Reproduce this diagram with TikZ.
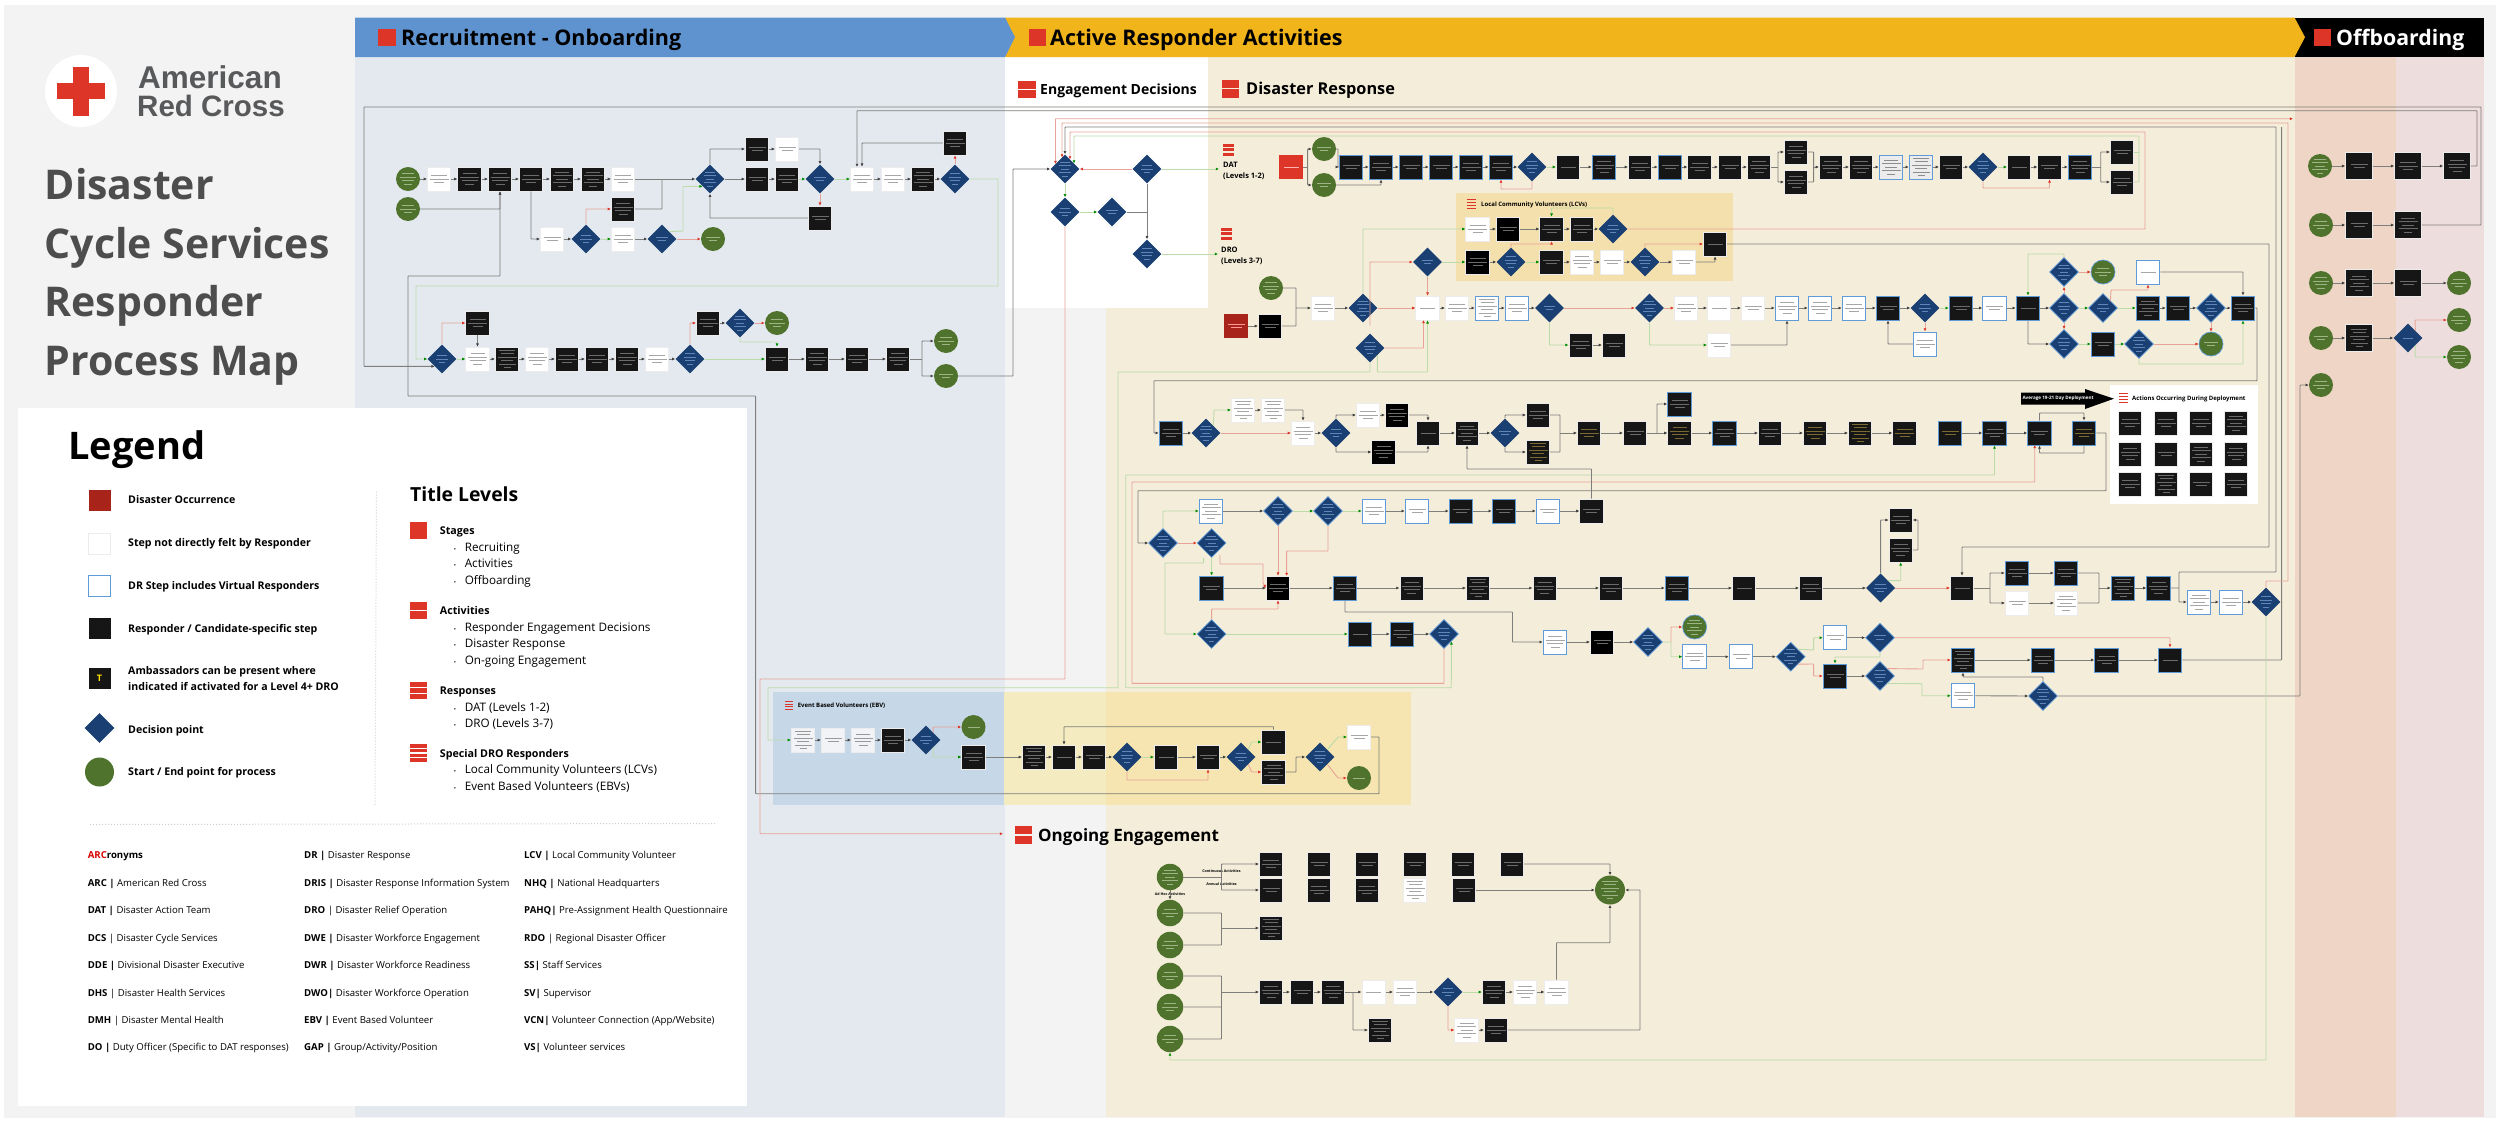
\documentclass[tikz,border=0pt]{standalone}
\usepackage{fontspec}
\setmainfont{Open Sans}
\newfontfamily\logofont{Liberation Sans}
\usetikzlibrary{arrows.meta,shapes.geometric}
\definecolor{bgG}{HTML}{F3F3F3}\definecolor{colB}{HTML}{E4E9F0}\definecolor{cream}{HTML}{F4EDDA}
\definecolor{salmon}{HTML}{EFD5C5}\definecolor{pinkc}{HTML}{EEDDDD}\definecolor{hdrB}{HTML}{5F93D0}
\definecolor{hdrY}{HTML}{F2B41B}\definecolor{lcvc}{HTML}{F4E0AC}\definecolor{ebvB}{HTML}{C6D7E8}
\definecolor{ebvY}{HTML}{F4EBC0}\definecolor{ebvZ}{HTML}{F6E5B0}\definecolor{redc}{HTML}{DE3529}
\definecolor{dredc}{HTML}{A8231A}\definecolor{navy}{HTML}{1A3F72}\definecolor{leaf}{HTML}{4F732D}
\definecolor{blk}{HTML}{161616}\definecolor{vblue}{HTML}{5F9BD8}\definecolor{lineG}{HTML}{7E7E7A}
\definecolor{lineN}{HTML}{BBDBA8}\definecolor{lineR}{HTML}{E8A398}\definecolor{inkT}{HTML}{4D4D4D}
\definecolor{logoT}{HTML}{58595B}
\pgfdeclareradialshading{logoball}{\pgfpoint{0bp}{0bp}}{color(0bp)=(white); color(36bp)=(white); color(50bp)=(black!22)}
\newcommand\fsz[1]{\fontsize{#1}{#1}\selectfont}
\def\gscale{1}
\newcommand\greekline[1]{\hbox to 0pt{\hss\rule{\gscale\dimexpr #1pt\relax}{1pt}\hss}\kern2.5pt}
\newcommand\grk[1]{\setbox0=\vbox{\offinterlineskip\ifcase#1\or\greekline{15}\or\greekline{17}\greekline{11}\or\greekline{16}\greekline{19}\greekline{10}\or\greekline{14}\greekline{19}\greekline{16}\greekline{9}\or\greekline{14}\greekline{19}\greekline{12}\greekline{19}\greekline{8}\or\greekline{16}\greekline{13}\greekline{19}\greekline{12}\greekline{17}\greekline{7}\fi\unkern}%
\setbox2=\hbox to 0pt{\hss\lower.5\ht0\box0\hss}\ht2=0pt \dp2=0pt \box2 }
\newcommand\mk[6][1]{\node[#2] (#3) at (#4,#5) {\def\gscale{#1}\grk{#6}};}
\newcommand\md[5]{\mk[.68]{#1}{#2}{#3}{#4}{#5}}
\newcommand\me[5]{\mk[.8]{#1}{#2}{#3}{#4}{#5}}
\newcount\tn
\newcommand\txt[4][]{\global\advance\tn by 1 \node[tx,#1] (tx\the\tn) at (#2,#3) {#4};}
\newcommand\lgn[2]{\txt[font=\bfseries\fsz{10.6}]{128}{#1}{#2}}
\newcommand\tlh[2]{\txt[font=\bfseries\fsz{10.7}]{439.7}{#1}{#2}}
\newcommand\tlb[2]{\txt[font=\fsz{11.7}]{453.6}{#1}{\makebox[11pt][l]{\fsz{6}•}#2}}
\newcommand\acr[4]{\txt[font=\fsz{9.6}]{#1}{#2}{\textbf{#3} #4}}
\newcommand\barsicon[5]{\pgfmathsetmacro\bh{(#4-(#5-1)*1.4)/#5}\foreach \i in {1,...,#5}{\fill[redc] (#1,{#3+(\i-1)*(\bh+1.4)}) rectangle (#2,{#3+(\i-1)*(\bh+1.4)+\bh});}}
\definecolor{F1}{HTML}{F1F3F6}\definecolor{Am}{HTML}{7A6A30}\definecolor{Db}{HTML}{5F86B5}\definecolor{Gl}{HTML}{9DB585}
\tikzset{
 tx/.style={anchor=base west,inner sep=0pt,text=black},
 box/.style={rectangle,minimum width=23.5pt,minimum height=24pt,inner sep=0pt,line width=.7pt},
 kb/.style={box,fill=blk,draw=white!85!gray,text=white!42!black},
 pb/.style={box,fill=black,draw=white!85!gray,text=white!42!black},
 wb/.style={box,fill=white,draw=white!85!gray,text=white!65!black},
 tb/.style={box,fill=F1,draw=white!85!gray,text=white!60!black},
 vb/.style={box,fill=white,draw=vblue,line width=1pt,text=white!65!black},
 sb/.style={box,fill=white!85!gray,draw=vblue,line width=1pt,text=white!55!black},
 ub/.style={box,fill=blk,draw=vblue,line width=1pt,text=white!42!black},
 am/.style={box,fill=blk,draw=white!85!gray,text=Am},
 ua/.style={box,fill=blk,draw=vblue,line width=1pt,text=Am},
 kc/.style={kb,minimum width=27pt,minimum height=27pt},
 rr/.style={box,fill=redc,text=white!70!red},
 dr/.style={box,fill=dredc,text=white!60!red},
 dd/.style={diamond,aspect=1,minimum width=29pt,minimum height=29pt,inner sep=0pt,fill=navy,text=Db},
 dv/.style={dd,draw=vblue,line width=.7pt},
 ge/.style={ellipse,minimum width=24pt,minimum height=24pt,inner sep=0pt,fill=leaf,text=Gl},
 gv/.style={ge,draw=vblue,line width=.7pt},
 gf/.style={ge,minimum width=26.5pt,minimum height=26.5pt},
 ktip/.tip={Latex[length=3.2pt,width=3pt,color=black!75]},
 gtip/.tip={Latex[length=3.2pt,width=3pt,color=green!55!black]},
 rtip/.tip={Latex[length=3.2pt,width=3pt,color=redc]},
 ln/.style={draw=lineG,line width=.9pt,rounded corners=.6pt,-ktip},
 gn/.style={draw=lineN,line width=.9pt,rounded corners=.6pt,-gtip},
 rd/.style={draw=lineR,line width=.9pt,rounded corners=.6pt,-rtip},
}
\begin{document}
\begin{tikzpicture}[x=1pt,y=-1pt]
\useasboundingbox (0,0) rectangle (2500,1122);
\fill[white] (0,0) rectangle (2500,1122);
\fill[bgG] (4,5) rectangle (2496,1118);
% columns
\fill[colB] (355,57) rectangle (1005,1117);
\fill[white] (1005,57) rectangle (1208,308);
\fill[cream] (1208,57) rectangle (2294.5,1117);
\fill[cream] (1106,308) rectangle (1208,1117);
\fill[salmon] (2294.5,57) rectangle (2396,1117);
\fill[pinkc] (2396,57) rectangle (2484,1117);
% headers
\fill[black] (2294.5,17.5) -- (2484,17.5) -- (2484,57) -- (2294.5,57) -- cycle;
\fill[hdrY] (1005,17.5) -- (2294.5,17.5) -- (2305,37.2) -- (2294.5,57) -- (1005,57) -- cycle;
\fill[hdrB] (355,17.5) -- (1005,17.5) -- (1015,37.2) -- (1005,57) -- (355,57) -- cycle;
\fill[redc] (378.4,28.7) rectangle (396,46);
\fill[redc] (1029,28.7) rectangle (1046,46);
\fill[redc] (2314,28.7) rectangle (2331,46);
\txt[font=\bfseries\fsz{21.5}]{401}{45.5}{Recruitment - Onboarding}
\txt[font=\bfseries\fsz{21.5}]{1050}{45.5}{Active Responder Activities}
\txt[font=\bfseries\fsz{21.3},text=white]{2336}{45.5}{Offboarding}
\barsicon{1018}{1036}{80.7}{17.6}{2}
\txt[font=\bfseries\fsz{14}]{1040}{94}{Engagement Decisions}
\barsicon{1222}{1239}{79.5}{18}{2}
\txt[font=\bfseries\fsz{16.3}]{1246}{94}{Disaster Response}
\barsicon{1014.5}{1032}{826}{18}{2}
\txt[font=\bfseries\fsz{17}]{1038}{841.5}{Ongoing Engagement}
\barsicon{1223}{1234}{144}{11.5}{3}
\txt[font=\bfseries\fsz{7.5}]{1223}{167}{DAT}
\txt[font=\bfseries\fsz{7.5}]{1223}{178}{(Levels 1-2)}
\barsicon{1221}{1232}{228}{11.5}{3}
\txt[font=\bfseries\fsz{7.5}]{1221}{252}{DRO}
\txt[font=\bfseries\fsz{7.5}]{1221}{263}{(Levels 3-7)}
% logo / title
\shade[shading=logoball] (81,91) circle (36);
\fill[redc] (72.7,67) rectangle (89.3,116);
\fill[redc] (56.7,83) rectangle (105,99);
\txt[font=\logofont\bfseries\fsz{31.5},text=logoT]{138}{88}{American}
\txt[font=\logofont\bfseries\fsz{29.5},text=logoT]{137}{116}{Red Cross}
\txt[font=\bfseries\fsz{41},text=inkT]{44.5}{199}{Disaster}
\txt[font=\bfseries\fsz{41},text=inkT]{44.5}{258}{Cycle Services}
\txt[font=\bfseries\fsz{41},text=inkT]{44.5}{316}{Responder}
\txt[font=\bfseries\fsz{41},text=inkT]{44.5}{375}{Process Map}
% legend
\fill[white] (18,408) rectangle (747,1106);
\txt[font=\bfseries\fsz{38}]{68}{459}{Legend}
\node[box,fill=dredc,minimum width=22pt,minimum height=21pt] (lg1) at (99.5,500) {};
\node[box,fill=white,draw=white!85!gray,minimum width=22pt,minimum height=21pt] (lg2) at (99.5,543.7) {};
\node[box,fill=white,draw=vblue,line width=1pt,minimum width=22pt,minimum height=21pt] (lg3) at (99.5,586) {};
\node[box,fill=blk,minimum width=22pt,minimum height=21pt] (lg4) at (99.5,628.7) {};
\node[box,fill=blk,minimum width=22pt,minimum height=21pt,text=yellow!85!orange,font=\bfseries\fsz{9}] (lg5) at (99.5,678.7) {T};
\node[dd,minimum width=30pt,minimum height=30pt] (lg6) at (99.5,728) {};
\node[ge,minimum width=29pt,minimum height=29pt] (lg7) at (99.5,772) {};
\lgn{503.3}{Disaster Occurrence}
\lgn{546.3}{Step not directly felt by Responder}
\lgn{589.3}{DR Step includes Virtual Responders}
\lgn{632}{Responder / Candidate-specific step}
\lgn{674.6}{Ambassadors can be present where}
\lgn{690}{indicated if activated for a Level 4+ DRO}
\lgn{733}{Decision point}
\lgn{775.6}{Start / End point for process}
\draw[bgG!85!black,dotted,line width=1pt] (376.5,491.7) -- (375,806);
\txt[font=\bfseries\fsz{19.4}]{410}{501}{Title Levels}
\barsicon{409.6}{427.3}{521.7}{17.4}{1}
\tlh{534}{Stages}
\tlb{551}{Recruiting}\tlb{567.7}{Activities}\tlb{584}{Offboarding}
\barsicon{409.6}{427.3}{601.7}{17.6}{2}
\tlh{614}{Activities}
\tlb{631}{Responder Engagement Decisions}\tlb{647.7}{Disaster Response}\tlb{664.3}{On-going Engagement}
\barsicon{409.6}{427.3}{681.7}{17.4}{3}
\tlh{694.3}{Responses}
\tlb{711}{DAT (Levels 1-2)}\tlb{727.7}{DRO (Levels 3-7)}
\barsicon{409.6}{427.3}{744.3}{17.4}{4}
\tlh{757}{Special DRO Responders}
\tlb{773.3}{Local Community Volunteers (LCVs)}\tlb{790}{Event Based Volunteers (EBVs)}
\draw[bgG!85!black,dotted,line width=1pt] (90,824.5) -- (717,823.5);
\txt[font=\bfseries\fsz{9.6}]{87.6}{858.5}{\textcolor{red!85!black}{ARC}ronyms}
\acr{87.6}{886}{ARC |}{American Red Cross}
\acr{87.6}{913}{DAT |}{Disaster Action Team}
\acr{87.6}{941}{DCS}{| Disaster Cycle Services}
\acr{87.6}{968}{DDE |}{Divisional Disaster Executive}
\acr{87.6}{996}{DHS}{| Disaster Health Services}
\acr{87.6}{1023}{DMH}{| Disaster Mental Health}
\acr{87.6}{1050.5}{DO |}{Duty Officer (Specific to DAT responses)}
\acr{304}{858.5}{DR |}{Disaster Response}
\acr{304}{886}{DRIS |}{Disaster Response Information System}
\acr{304}{913}{DRO}{| Disaster Relief Operation}
\acr{304}{941}{DWE |}{Disaster Workforce Engagement}
\acr{304}{968}{DWR |}{Disaster Workforce Readiness}
\acr{304}{996}{DWO|}{Disaster Workforce Operation}
\acr{304}{1023}{EBV |}{Event Based Volunteer}
\acr{304}{1050.5}{GAP |}{Group/Activity/Position}
\acr{524}{858.5}{LCV |}{Local Community Volunteer}
\acr{524}{886}{NHQ |}{National Headquarters}
\acr{524}{913}{PAHQ|}{Pre-Assignment Health Questionnaire}
\acr{524}{941}{RDO}{| Regional Disaster Officer}
\acr{524}{968}{SS|}{Staff Services}
\acr{524}{996}{SV|}{Supervisor}
\acr{524}{1023}{VCN|}{Volunteer Connection (App/Website)}
\acr{524}{1050.5}{VS|}{Volunteer services}
% sub-areas
\fill[lcvc] (1455.6,193) rectangle (1733,281);
\barsicon{1467}{1476}{199}{10}{4}
\txt[font=\bfseries\fsz{6}]{1481}{206}{Local Community Volunteers (LCVs)}
\fill[ebvB] (773,692) rectangle (1004,805);
\fill[ebvY] (1004,692) rectangle (1106,805);
\fill[ebvZ] (1106,692) rectangle (1410.5,805);
\barsicon{785}{793}{701}{9}{4}
\txt[font=\bfseries\fsz{6}]{797.6}{707}{Event Based Volunteers (EBV)}
\fill[white] (2110,385) rectangle (2258,504);
\barsicon{2118.5}{2127.5}{393}{10}{4}
\txt[font=\bfseries\fsz{6}]{2132}{400.5}{Actions Occurring During Deployment}
\fill[black] (2021,392.7) -- (2085,392.7) -- (2085,389) -- (2114,398.7) -- (2085,409) -- (2085,404.7) -- (2021,404.7) -- cycle;
\txt[font=\bfseries\fsz{4.6},text=white,anchor=center]{2058}{398.7}{Average 19-21 Day Deployment}
% ---------- recruitment nodes
\me{ge}{s1}{408}{179}{4}\mk{wb}{r2}{439}{179}{3}\mk{kb}{r3}{469.5}{179}{4}\mk{kb}{r4}{500}{179}{4}\mk{kb}{r5}{531}{179}{3}\mk{kb}{r6}{562}{179}{5}\mk{kb}{r7}{593}{179}{5}\mk{wb}{r8}{623}{179}{3}
\md{dd}{r9}{710}{179}{5}\mk{kb}{r10}{757}{179}{2}\mk{kb}{r11}{787}{179}{3}\md{dd}{r12}{820}{179}{2}\mk{wb}{r13}{862}{179}{3}\mk{wb}{r14}{893}{179}{3}\mk{kb}{r15}{923}{179}{5}\md{dd}{r16}{955}{179}{4}
\mk{kb}{r17}{757}{149}{2}\mk{wb}{r18}{787}{149}{2}\mk{kb}{r19}{955}{143}{3}\me{ge}{s2}{408}{209}{3}\mk{kb}{r20}{623}{209}{4}
\mk{wb}{r21}{552}{239}{2}\md{dd}{r22}{586}{239}{3}\mk{wb}{r23}{623}{239}{3}\md{dd}{r24}{662}{239}{2}\me{ge}{e1}{713}{239}{2}\mk{kb}{r25}{820}{218}{2}
\md{dd}{q1}{442}{359}{3}\mk{wb}{q2}{477.5}{359}{4}\mk{kb}{q3}{507}{359}{6}\mk{wb}{q4}{537}{359}{4}\mk{kb}{q5}{567}{359}{3}\mk{kb}{q6}{597}{359}{3}\mk{kb}{q7}{627}{359}{4}\mk{wb}{q8}{657}{359}{3}\md{dd}{q9}{690}{359}{4}
\mk{kb}{q10}{777}{359}{2}\mk{kb}{q11}{817}{359}{4}\mk{kb}{q12}{857}{359}{3}\mk{kb}{q13}{898}{359}{4}\mk{kb}{q14}{477.5}{323}{3}\mk{kb}{q15}{708}{323}{3}\md{dd}{q16}{740}{323}{5}\me{ge}{e2}{777}{323}{3}\me{ge}{e3}{946}{341}{3}\me{ge}{e4}{946}{376}{2}
% engagement
\md{dd}{n1}{1065}{169}{5}\md{dd}{n2}{1147}{169}{3}\md{dd}{n3}{1065}{212}{3}\md{dd}{n4}{1112}{212}{2}\md{dd}{n5}{1147}{254}{4}
\coordinate (cDat) at (1219,169);\coordinate (cDro) at (1218,254);\coordinate (cOng) at (1003,833.7);\coordinate (cOff) at (2293,118.7);
% DAT
\mk{rr}{d0}{1291}{167}{1}\me{ge}{d1}{1324}{149}{2}\me{ge}{d2}{1324}{185}{2}
\mk{ub}{a1}{1351}{167}{2}\mk{ub}{a2}{1381}{167}{3}\mk{ub}{a3}{1411}{167}{2}\mk{ub}{a4}{1441}{167}{2}\mk{ub}{a5}{1471}{167}{3}\mk{ub}{a6}{1501}{167}{3}\md{dd}{a7}{1532}{167}{4}\mk{kb}{a8}{1568}{167}{1}\mk{ub}{a9}{1604}{167}{4}\mk{kb}{a10}{1640}{167}{3}\mk{ub}{a11}{1670}{167}{2}\mk{kb}{a12}{1699.5}{167}{3}\mk{kb}{a13}{1730}{167}{2}\mk{kb}{a14}{1759}{167}{4}
\mk{kb}{a15}{1796}{152}{4}\mk{kb}{a16}{1796}{182}{4}\mk{kb}{a17}{1831}{167}{4}\mk{kb}{a18}{1861}{167}{4}\mk{sb}{a19}{1891}{167}{5}\mk{sb}{a20}{1921}{167}{6}\mk{kb}{a21}{1951}{167}{2}\md{dd}{a22}{1983}{167}{4}\mk{kb}{a23}{2019}{167}{1}\mk{kb}{a24}{2049.5}{167}{2}\mk{ub}{a25}{2080}{167}{4}\mk{kb}{a26}{2122}{152}{2}\mk{kb}{a27}{2122}{182}{3}
% LCV
\mk{wb}{l1}{1477.5}{229}{3}\mk{pb}{l2}{1508}{229}{2}\mk{kb}{l3}{1551.5}{229}{3}\mk{kb}{l4}{1582}{229}{3}\md{dd}{l5}{1613}{229}{3}\mk{pb}{l6}{1477.5}{262}{3}\md{dd}{l7}{1511}{262}{4}\mk{kb}{l8}{1551.5}{262}{2}\mk{wb}{l9}{1582}{262}{4}\mk{wb}{l10}{1612}{262}{2}\md{dd}{l11}{1645}{262}{4}\mk{wb}{l12}{1684}{262}{2}\mk{kb}{l13}{1715}{244}{1}
% DRO row
\me{ge}{b1}{1271}{288}{4}\mk{dr}{b2}{1236}{326}{2}\mk{pb}{b3}{1270}{326}{2}\mk{wb}{b4}{1323}{308}{3}\md{dd}{b5}{1363}{308}{5}\md{dd}{b6}{1427.5}{262}{2}\mk{wb}{b7}{1427.5}{308}{1}\mk{wb}{b8}{1457}{308}{3}\mk{vb}{b9}{1487}{308}{6}\mk{vb}{b10}{1517}{308}{3}\md{dd}{b11}{1549.5}{308}{2}\md{dd}{b12}{1649.5}{308}{5}\mk{wb}{b13}{1686}{308}{3}\mk{wb}{b14}{1719}{308}{1}\mk{wb}{b15}{1753}{308}{2}\mk{vb}{b16}{1787}{308}{4}\mk{vb}{b17}{1820}{308}{4}\mk{vb}{b18}{1854}{308}{3}\mk{ub}{b19}{1888}{308}{2}\md{dd}{b20}{1925}{308}{3}\mk{ub}{b21}{1961}{308}{2}\mk{vb}{b22}{1994.5}{308}{2}\mk{ub}{b23}{2028}{308}{1}\md{dv}{b24}{2064}{308}{4}\md{dv}{b25}{2103}{308}{3}\mk{ub}{b26}{2148}{308}{5}\mk{ub}{b27}{2178}{308}{2}\md{dv}{b28}{2211}{308}{5}\mk{ub}{b29}{2243}{308}{3}
\md{dv}{b30}{2064}{272}{5}\me{gv}{b31}{2103}{272}{3}\mk{vb}{b32}{2148}{272}{1}\md{dd}{b33}{1370}{348}{4}\mk{kb}{b34}{1580.6}{345}{3}\mk{kb}{b35}{1614}{345}{2}\mk{wb}{b36}{1719}{345}{2}\mk{vb}{b37}{1925}{344}{3}\md{dv}{b38}{2064}{344}{4}\mk{ub}{b39}{2103}{344}{2}\md{dv}{b40}{2139}{344}{5}\me{gv}{b41}{2211}{344}{2}
% offboarding
\me{ge}{f1}{2320}{166}{5}\mk{kc}{f2}{2359}{166}{2}\mk{kc}{f3}{2408}{166}{3}\mk{kc}{f4}{2457}{166}{4}\me{ge}{f5}{2321}{225}{3}\mk{kc}{f6}{2359}{225}{2}\mk{kc}{f7}{2408}{225}{5}\me{ge}{f8}{2321}{283}{4}\mk{kc}{f9}{2359}{283}{5}\mk{kc}{f10}{2408}{283}{2}\me{ge}{f11}{2459}{283}{3}\me{ge}{f12}{2321}{338}{2}\mk{kc}{f13}{2359}{338}{6}\md{dd}{f14}{2408}{338}{1}\me{ge}{f15}{2459}{320}{3}\me{ge}{f16}{2459}{357}{4}\me{ge}{f17}{2321}{385}{3}
% row 433
\mk{ub}{c1}{1171}{433}{3}\md{dd}{c2}{1206}{433}{5}\mk{wb}{c3}{1243}{410}{6}\mk{wb}{c4}{1273}{410}{6}\mk{wb}{c5}{1303}{433}{4}\md{dd}{c6}{1336}{433}{3}\mk{wb}{c7}{1368}{415}{3}\mk{pb}{c8}{1397}{415}{4}\mk{pb}{c9}{1383.5}{452}{4}\mk{kb}{c10}{1428}{433}{1}\mk{kb}{c11}{1467}{433}{5}\md{dd}{c12}{1505}{433}{2}\mk{kb}{c13}{1538}{415}{3}\mk{am}{c14}{1538}{452}{6}\mk{am}{c15}{1589}{433}{3}\mk{kb}{c16}{1635}{433}{2}\mk{ub}{c17}{1679.5}{404}{3}\mk{am}{c18}{1679.5}{433}{4}\mk{ub}{c19}{1724.5}{433}{3}\mk{kb}{c20}{1770}{433}{3}\mk{am}{c21}{1815}{433}{4}\mk{am}{c22}{1860}{433}{6}\mk{am}{c23}{1904.5}{433}{3}\mk{ua}{c24}{1950}{433}{2}\mk{ub}{c25}{1994.5}{433}{3}\mk{ub}{c26}{2039.5}{433}{2}\mk{ua}{c27}{2084}{433}{3}
% rows 511-660
\mk{vb}{g1}{1211}{511}{5}\md{dv}{g2}{1278}{511}{5}\md{dv}{g3}{1328}{511}{5}\mk{vb}{g4}{1374}{511}{3}\mk{vb}{g5}{1417}{511}{2}\mk{ub}{g6}{1461}{511}{2}\mk{ub}{g7}{1504}{511}{2}\mk{vb}{g8}{1548}{511}{2}\mk{kb}{g9}{1591.5}{511}{2}\md{dv}{g10}{1163}{543}{5}\md{dv}{g11}{1211.6}{543}{5}
\mk{ub}{h1}{1211.6}{588}{2}\mk{pb}{h2}{1278}{588}{3}\mk{ub}{h3}{1345}{588}{3}\mk{kb}{h4}{1411.6}{588}{4}\mk{kb}{h5}{1478}{588}{6}\mk{kb}{h6}{1544.6}{588}{4}\mk{kb}{h7}{1611}{588}{3}\mk{ub}{h8}{1677}{588}{3}\mk{kb}{h9}{1744}{588}{1}\mk{kb}{h10}{1811}{588}{3}\md{dd}{h11}{1880.6}{588}{3}\mk{kb}{h12}{1962}{588}{1}\mk{kb}{h13}{1900.7}{520}{3}\mk{kb}{h14}{1900.7}{550}{4}\mk{ub}{h15}{2017}{573}{3}\mk{ub}{h16}{2066}{573}{3}\mk{wb}{h17}{2017}{603}{2}\mk{wb}{h18}{2066}{603}{5}\mk{ub}{h19}{2123}{588}{6}\mk{ub}{h20}{2158.6}{588}{4}\mk{vb}{h21}{2199}{602}{5}\mk{vb}{h22}{2231}{602}{3}\md{dd}{h23}{2266}{602}{4}
\md{dv}{i1}{1211.6}{634}{5}\mk{ub}{i2}{1360}{634}{1}\mk{ub}{i3}{1402}{634}{3}\md{dv}{i4}{1444}{634}{4}
\mk{vb}{j1}{1555}{642}{4}\mk{pb}{j2}{1602}{642}{2}\md{dv}{j3}{1648}{642}{5}\me{gv}{j4}{1694.6}{627}{5}\mk{vb}{j5}{1694.6}{656.7}{3}\mk{vb}{j6}{1741}{656.7}{2}\md{dv}{j7}{1790.7}{656.7}{5}\mk{vb}{j8}{1835}{637.7}{2}\md{dv}{j9}{1880}{637.7}{2}\mk{ub}{j10}{1835}{676}{2}\md{dv}{j11}{1880}{676}{4}\mk{ub}{j12}{1963}{660}{6}\mk{ub}{j13}{2043}{660}{3}\mk{ub}{j14}{2106.5}{660}{3}\mk{ub}{j15}{2170}{660}{1}\mk{vb}{j16}{1963}{695.7}{3}\md{dv}{j17}{2043}{696}{5}
% ebv
\mk{tb}{z1}{803}{740}{6}\mk{tb}{z2}{833}{740}{2}\mk{tb}{z3}{863}{740}{4}\mk{kb}{z4}{893}{740}{3}\md{dd}{z5}{926}{740}{3}\me{ge}{z6}{973.5}{727}{1}\mk{kb}{z7}{973.5}{757}{3}\mk{kb}{z8}{1034}{757}{6}\mk{kb}{z9}{1064}{757}{1}\mk{kb}{z10}{1094}{757}{2}\md{dd}{z11}{1127}{757}{4}\mk{kb}{z12}{1166}{757}{1}\mk{kb}{z13}{1208}{757}{2}\md{dd}{z14}{1241}{757}{3}\mk{kb}{z15}{1273.5}{742}{1}\mk{kb}{z16}{1273.5}{772}{5}\md{dd}{z17}{1320}{757}{4}\mk{wb}{z18}{1359}{737}{2}\me{ge}{z19}{1359}{778}{1}
% ongoing
\me{gf}{o1}{1170}{877}{5}\me{gf}{o2}{1170}{913}{3}\me{gf}{o3}{1170}{945}{3}\me{gf}{o4}{1170}{976}{3}\me{gf}{o5}{1170}{1007}{3}\me{gf}{o6}{1170}{1039}{3}
\mk{kb}{p1}{1271}{864}{3}\mk{kb}{p2}{1319}{864}{2}\mk{kb}{p3}{1367}{864}{2}\mk{kb}{p4}{1415}{864}{2}\mk{kb}{p5}{1463}{864}{2}\mk{kb}{p6}{1512}{864}{2}\mk{kb}{p7}{1271}{890}{2}\mk{kb}{p8}{1319}{890}{3}\mk{kb}{p9}{1367}{890}{3}\mk{wb}{p10}{1415}{890}{6}\mk{kb}{p11}{1464}{890}{2}\mk{kb}{p12}{1271}{928}{6}
\mk{kb}{v1}{1271}{992}{4}\mk{kb}{v2}{1302}{992}{2}\mk{kb}{v3}{1333}{992}{4}\mk{wb}{v4}{1373.6}{992}{1}\mk{wb}{v5}{1405}{992}{3}\md{dd}{v6}{1448}{992}{3}\mk{kb}{v7}{1494}{992}{4}\mk{wb}{v8}{1525}{992}{4}\mk{wb}{v9}{1556.5}{992}{3}\mk{kb}{v10}{1380}{1030}{6}\mk{wb}{v11}{1466.5}{1030}{5}\mk{kb}{v12}{1496}{1030}{3}
\node[ge,minimum width=30pt,minimum height=29pt] (o7) at (1610,890) {\def\gscale{.95}\grk{6}};
% deployment grid
\foreach \i/\xx/\yy/\nn in {1/2130/423/3,2/2166/423/3,3/2201/423/3,4/2236/423/5,5/2130/454/4,6/2166/454/2,7/2201/454/5,8/2236/454/4,9/2130/484/3,10/2166/484/6,11/2201/484/2,12/2236/484/3}{\mk{kb}{y\i}{\xx}{\yy}{\nn}}
\txt[font=\bfseries\fsz{3.6},anchor=center]{1221.5}{871}{Continuous Activities}
\txt[font=\bfseries\fsz{3.6},anchor=center]{1221.5}{884}{Annual Activities}
\txt[font=\bfseries\fsz{3.6},anchor=center]{1170}{894.5}{Ad Hoc Activities}
% ---------- straight connectors
\foreach \a/\b in {s1/r2,r2/r3,r3/r4,r4/r5,r5/r6,r6/r7,r7/r8,r8/r9,r9/r10,r10/r11,r17/r18,r13/r14,r14/r15,r15/r16,r21/r22,r23/r24,q2/q3,q3/q4,q4/q5,q5/q6,q6/q7,q7/q8,q8/q9,q10/q11,q11/q12,q12/q13,q15/q16,q14/q2,a1/a2,a2/a3,a3/a4,a4/a5,a5/a6,a6/a7,a8/a9,a9/a10,a10/a11,a11/a12,a12/a13,a13/a14,a17/a18,a18/a19,a19/a20,a20/a21,a21/a22,a23/a24,a24/a25,l1/l2,l2/l3,l3/l4,l4/l5,l6/l7,l8/l9,l9/l10,l10/l11,l11/l12,b2/b3,b4/b5,b7/b8,b8/b9,b9/b10,b10/b11,b13/b14,b14/b15,b15/b16,b16/b17,b17/b18,b18/b19,b19/b20,b21/b22,b22/b23,b23/b24,b26/b27,b27/b28,b28/b29,b34/b35,f1/f2,f2/f3,f3/f4,f5/f6,f6/f7,f8/f9,f9/f10,f10/f11,f12/f13,f13/f14,c1/c2,c3/c4,c5/c6,c7/c8,c10/c11,c11/c12,c15/c16,c16/c18,c18/c19,c19/c20,c20/c21,c21/c22,c22/c23,c24/c25,c25/c26,g1/g2,g4/g5,g5/g6,g6/g7,g7/g8,g8/g9,h1/h2,h2/h3,h3/h4,h4/h5,h5/h6,h6/h7,h7/h8,h8/h9,h9/h10,h10/h11,h15/h16,h17/h18,h19/h20,h21/h22,h22/h23,i2/i3,i3/i4,j1/j2,j2/j3,j5/j6,j6/j7,j8/j9,j10/j11,j12/j13,j13/j14,j14/j15,z1/z2,z2/z3,z3/z4,z4/z5,z7/z8,z8/z9,z9/z10,z10/z11,z12/z13,z13/z14,v1/v2,v2/v3,v3/v4,v4/v5,v5/v6,v7/v8,v8/v9,v11/v12,o1/o2,p11/o7}{\draw[ln] (\a) -- (\b);}
\foreach \a/\b in {r11/r12,r12/r13,r22/r23,q1/q2,q9/q10,n1/n3,n3/n4,a7/a8,a22/a23,l7/l8,b20/b21,b24/b25,b25/b26,b6/l6,b38/b39,b39/b40,g2/g3,g3/g4,i1/i2,z11/z12,v6/v7}{\draw[gn] (\a) -- (\b);}
\foreach \a/\b in {r24/e1,n2/n1,q16/e2,r16/r19,r12/r25,b11/b12,b12/b13,b5/b7,b6/b7,b24/b30,b24/b38,b30/b31,b28/b41,b20/b37,b40/b41,c2/c5,g10/g11,g2/h2,h11/h12}{\draw[rd] (\a) -- (\b);}
\draw[gn] (n2) -- (cDat);\draw[gn] (n5) -- (cDro);
\draw[ln] (n2) -- (n5);
\draw[ln,-] (n4) -- (1147,212);
% ---------- routed connectors: recruitment
\draw[ln] (r9.north) |- (r17.west);
\draw[ln] (r18.east) -| (r12.north);
\draw[ln] (r25.west) -| (r9.south);
\draw[ln] (r5.south) |- (r21.west);
\draw[rd] (r22.north) |- (r20.west);
\draw[ln,-] (r20.east) -| (662,179);
\draw[gn] (r24.north east) -- (683,231) -- (683,186.5) -- (r9.south west);
\draw[ln] (s2.east) -| (r4.south);
\draw[ln] (r19.west) -| (r13.north);
\draw[ln] (f4.east) -| (2477,110.7) -- (857,110.7) -- (857,167);
\draw[ln] (f7.east) -| (2481,107) -- (364,107) |- (q1.south west);
\draw[gn] (r16.east) -- (998,179) -- (998,286) -- (416,286) |- (q1.west);
\draw[rd] (q1.north) |- (q14.west);
\draw[rd] (q9.north) |- (q15.west);
\draw[gn] (q16.south) -- (740,342) -| (q10.north);
\draw[ln,-] (q13.east) -- (922,359);
\draw[ln] (922,359) |- (e3.west);
\draw[ln] (922,359) |- (e4.west);
\draw[ln] (z18.east) -| (1379,793.7) -- (755.6,793.7) -- (755.6,396) -- (408,396) -- (408,276) -| (r4.south);
\draw[ln] (e4.east) -- (1013,376) |- (n1.west);
\draw[rd] (n3.south) -- (1065,679) -- (760,679) |- (cOng);
% ---------- top bus lines
\draw[ln] (h20.east) -- (2179,588) -- (2179,572) -- (2276,572) -- (2276,127) -- (1065,127) -- (n1.north);
\draw[ln] (2179,588) |- (h21.west);
\draw[ln,-] (j15.east) -- (2281.6,660) -- (2281.6,127);
\draw[rd] (h23.north) -- (2266,581) -- (2288,581) -- (2288,123) -- (1062,123) -- (1062,157.5);
\draw[rd,rtip-rtip] (cOff) -- (1055.5,118.7) -- (1055.5,164);
\draw[rd] (l5.east) -- (2145,229) -- (2145,132) -- (1070,132) -- (1070,159.5);
\draw[gn] (a27.east) -| (2139,136) -- (1074,136) -- (1074,163.5);
\draw[gn,-] (a26.east) -- (2139,152);
% DAT
\draw[ln,-] (d0.east) -- (1307.6,167);
\draw[ln] (1307.6,167) |- (d1.west);
\draw[ln] (1307.6,167) |- (d2.west);
\draw[ln] (d1.east) -- (1338,149) -- (1338,167) -- (a1.west);
\draw[ln] (d2.east) -| (a2.south);
\draw[rd] (a7.south) |- (1501,189) -- (a6.south);
\draw[ln,-] (a14.east) -- (1778,167);
\draw[ln] (1778,167) |- (a15.west);
\draw[ln] (1778,167) |- (a16.west);
\draw[ln,-] (a15.east) -| (1813.6,167);
\draw[ln,-] (a16.east) -| (1813.6,167);
\draw[ln] (1813.6,167) -- (a17.west);
\draw[rd] (a22.south) |- (2049.5,188) -- (a24.south);
\draw[ln,-] (a25.east) -- (2100.7,167);
\draw[ln] (2100.7,167) |- (a26.west);
\draw[ln] (2100.7,167) |- (a27.west);
% LCV
\draw[gn] (l5.north) |- (1551.5,208) -- (l3.north);
\draw[rd] (l7.north) |- (1551.5,244) -- (l3.south);
\draw[rd] (l11.north) |- (l13.west);
\draw[ln] (l12.east) -| (l13.south);
\draw[ln] (l13.east) -| (2269,547) -| (h12.north);
% DRO
\draw[ln] (b1.east) -- (1296,288) -- (1296,308) -- (b4.west);
\draw[ln,-] (b3.east) -| (1296,308);
\draw[gn] (b5.north) |- (l1.west);
\draw[rd] (1370,325.5) -- (1370,262) -- (b6.west);
\draw[rd] (b33.east) -| (1423.5,320);
\draw[gn] (b33.south) -- (1370,372) -- (1118,372) -- (1118,687.7) -- (768,687.7) |- (z1.west);
\draw[gn] (b33.south east) |- (1427.5,372) -- (b7.south);
\draw[gn] (b11.south) |- (b34.west);
\draw[gn] (b12.south) |- (b36.west);
\draw[ln] (b36.east) -| (b16.south);
\draw[ln] (b37.west) -| (b19.south);
\draw[gn] (b30.north) -- (2064,254) -- (2028,254) -- (b23.north);
\draw[ln] (b23.south) |- (b38.west);
\draw[rd] (b25.north east) -- (2111,290) -- (2148,290) -- (b32.south);
\draw[ln] (b32.east) -| (b29.north);
\draw[gn] (b40.south) |- (2243,364) -- (b29.south);
\draw[ln] (b29.east) -- (2257,308) -- (2257,380.7) -- (1154,380.7) |- (c1.west);
% offboarding
\draw[rd] (f14.north east) -- (2415,320) -- (f15.west);
\draw[gn] (f14.south east) -- (2415,357) -- (f16.west);
% row 433
\draw[gn] (c2.north east) -- (1214,410) -- (c3.west);
\draw[ln] (c4.east) -| (c5.north);
\draw[ln] (c6.north) |- (c7.west);
\draw[ln] (c6.south) |- (c9.west);
\draw[ln] (c8.east) -| (c10.north);
\draw[ln] (c9.east) -| (c10.south);
\draw[ln] (c12.north) |- (c13.west);
\draw[ln] (c12.south) |- (c14.west);
\draw[ln,-] (c13.east) -| (1560,433);
\draw[ln,-] (c14.east) -| (1560,433);
\draw[ln] (1560,433) -- (c15.west);
\draw[ln] (1657,433) |- (c17.west);
\draw[ln] (c26.north) |- (2084,413) -- (c27.north);
\draw[ln] (c27.south) |- (2039.5,453) -- (c26.south);
\draw[ln] (c27.east) -- (2106,433) -- (2106,490.7) -- (1138,490.7) |- (g10.west);
\draw[gn,gtip-gtip] (i4.south east) -- (1451.25,687.7) -- (1125.7,687.7) -- (1125.7,475) -| (c25.south);
\draw[rd] (i4.south) -- (1444,683.3) -- (1132,683.3) -- (1132,482) -- (2034.7,482) -- (2034.7,445);
% rows
\draw[gn] (g10.north) |- (g1.west);
\draw[gn] (g11.south) -- (h1.north);
\draw[gn] (1203.6,558) -- (1203.6,563) -- (1165,563) |- (i1.west);
\draw[rd] (1220,555) -- (1220,564) -- (1263,564) -- (1263,583) -- (h2.west);
\draw[rd] (g3.south) -- (1328,551) -- (1286.6,551) -- (1286.6,576);
\draw[ln] (g9.north) -- (1591.5,469) -| (c11.south);
\draw[rd] (i1.north) |- (1278,609) -- (h2.south);
\draw[ln] (h3.south) -- (1345,612) -- (1512.5,612) -- (1512.5,642) -- (j1.west);
\draw[ln] (h11.north) |- (h13.west);
\draw[ln] (h14.east) -| (1918,520) -- (h13.east);
\draw[gn] (h11.north east) -| (h14.south);
\draw[ln,-] (h12.east) -- (1990,588);
\draw[ln] (1990,588) |- (h15.west);
\draw[ln] (1990,588) |- (h17.west);
\draw[ln,-] (h16.east) -| (2099,588);
\draw[ln,-] (h18.east) -| (2099,588);
\draw[ln] (2099,588) -- (h19.west);
\draw[gn] (j3.east) -- (1671,642) |- (j5.west);
\draw[rd] (1671,642) |- (j4.west);
\draw[gn] (j7.north east) -- (1813.6,650) |- (j8.west);
\draw[rd] (j7.south east) -- (1813.6,664) |- (j10.west);
\draw[rd] (j9.east) -| (j15.north);
\draw[gn] (j9.south) -- (1880,657) -- (1835,657) -- (j10.north);
\draw[rd] (j11.north east) -- (1923,669) |- (j12.west);
\draw[gn] (j11.south east) -- (1922,683.7) |- (j16.west);
\draw[ln] (j16.east) -- (j17.west);
\draw[ln] (j17.north) |- (1963,677) -- (j12.south);
\draw[ln] (j17.east) -- (2300,696) |- (f17.west);
% ebv
\draw[rd] (z5.north east) -- (933,727) -- (z6.west);
\draw[gn] (z5.south east) -- (933,757) -- (z7.west);
\draw[rd] (z11.south) |- (1208,780) -- (z13.south);
\draw[gn] (z14.north east) -- (1251.6,742) -- (z15.west);
\draw[rd] (z14.south east) -- (1251.6,772) -- (z16.west);
\draw[gn] (z17.north east) -- (1338,737) -- (z18.west);
\draw[rd] (z17.south east) -- (1338,778) -- (z19.west);
\draw[ln] (z15.north) |- (1064,726.7) -- (z9.north);
\draw[ln] (z16.east) -- (1296,772) -- (1296,757) -- (z17.west);
% ongoing
\draw[ln,-] (o1.east) -- (1221.5,877);
\draw[ln] (1221.5,877) |- (p1.west);
\draw[ln] (1221.5,877) |- (p7.west);
\draw[ln,-] (o2.east) -| (1221.5,928);
\draw[ln,-] (o3.east) -| (1221.5,928);
\draw[ln] (1221.5,928) -- (p12.west);
\draw[ln,-] (o4.east) -| (1221.5,992);
\draw[ln,-] (o5.east) -| (1221.5,992);
\draw[ln,-] (o6.east) -| (1221.5,992);
\draw[ln] (1221.5,992) -- (v1.west);
\draw[ln] (1353,992) |- (v10.west);
\draw[rd] (v6.south) |- (v11.west);
\draw[ln] (v12.east) -| (1640,890) -- (o7.east);
\draw[ln] (v9.north) |- (1610,942.7) -- (o7.south);
\draw[ln] (p6.east) -| (o7.north);
\draw[gn] (h23.south) -- (2266,1060) -- (1170,1060) -- (o6.south);
\end{tikzpicture}
\end{document}
